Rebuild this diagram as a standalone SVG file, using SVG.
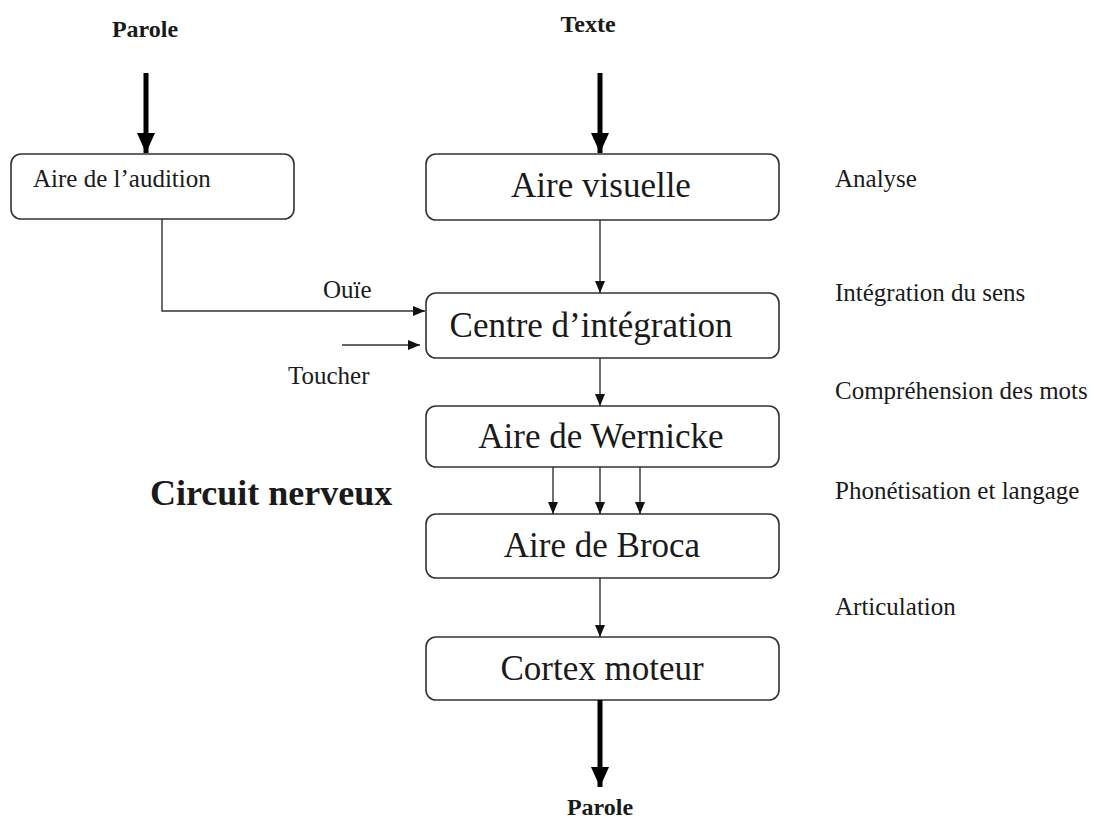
<svg xmlns="http://www.w3.org/2000/svg" width="1095" height="823" viewBox="0 0 1095 823">
  <style>
    .box { fill: #ffffff; stroke: #333333; stroke-width: 1.6; }
    .box-text { font-family: "Liberation Serif", "Times New Roman", serif; font-size: 35px; fill: #1a1a1a; text-anchor: middle; }
    .small { font-family: "Liberation Serif", "Times New Roman", serif; font-size: 25px; fill: #1a1a1a; }
    .head { font-family: "Liberation Serif", "Times New Roman", serif; font-size: 24px; font-weight: bold; fill: #1a1a1a; text-anchor: middle; }
    .thin { fill: none; stroke: #333333; stroke-width: 1.4; }
    .thick { fill: none; stroke: #000000; stroke-width: 5; }
  </style>
  <defs>
    <marker id="arrow" markerUnits="userSpaceOnUse" markerWidth="12" markerHeight="12" viewBox="0 0 12 12" refX="12" refY="6" orient="auto">
      <path d="M0,1 L12,6 L0,11 Z" fill="#111111"/>
    </marker>
    <marker id="arrow-big" markerUnits="userSpaceOnUse" markerWidth="20" markerHeight="20" viewBox="0 0 20 20" refX="20" refY="10" orient="auto">
      <path d="M0,1 L20,10 L0,19 Z" fill="#000000"/>
    </marker>
  </defs>

  <rect width="1095" height="823" fill="#ffffff"/>

  <!-- inputs and output labels -->
  <text class="head" x="145" y="37">Parole</text>
  <text class="head" x="588" y="32">Texte</text>
  <text class="head" x="600" y="815">Parole</text>

  <text x="150" y="505" font-family="'Liberation Serif', 'Times New Roman', serif" font-size="36" font-weight="bold" fill="#1a1a1a">Circuit nerveux</text>

  <!-- stage descriptions -->
  <g id="stages">
    <text class="small" x="835" y="187">Analyse</text>
    <text class="small" x="835" y="301">Intégration du sens</text>
    <text class="small" x="835" y="399">Compréhension des mots</text>
    <text class="small" x="835" y="499">Phonétisation et langage</text>
    <text class="small" x="835" y="615">Articulation</text>
  </g>

  <!-- nodes -->
  <g id="aire-audition">
    <rect class="box" x="11" y="154" width="283" height="65" rx="10"/>
    <text class="small" x="33" y="187">Aire de l’audition</text>
  </g>
  <g id="aire-visuelle">
    <rect class="box" x="426" y="154" width="353" height="66" rx="10"/>
    <text class="box-text" x="601" y="197">Aire visuelle</text>
  </g>
  <g id="centre-integration">
    <rect class="box" x="426" y="293" width="353" height="65" rx="10"/>
    <text class="box-text" x="591" y="337">Centre d’intégration</text>
  </g>
  <g id="aire-wernicke">
    <rect class="box" x="426" y="406" width="353" height="61" rx="10"/>
    <text class="box-text" x="601" y="448">Aire de Wernicke</text>
  </g>
  <g id="aire-broca">
    <rect class="box" x="426" y="514" width="353" height="64" rx="10"/>
    <text class="box-text" x="602" y="557">Aire de Broca</text>
  </g>
  <g id="cortex-moteur">
    <rect class="box" x="426" y="637" width="353" height="63" rx="10"/>
    <text class="box-text" x="602" y="680">Cortex moteur</text>
  </g>

  <!-- connectors -->
  <g id="connectors">
    <line class="thick" x1="146" y1="73" x2="146" y2="153" marker-end="url(#arrow-big)"/>
    <line class="thick" x1="600" y1="73" x2="600" y2="153" marker-end="url(#arrow-big)"/>
    <line class="thick" x1="600" y1="700" x2="600" y2="787" marker-end="url(#arrow-big)"/>

    <path class="thin" d="M162,219 V311 H425" marker-end="url(#arrow)"/>
    <line class="thin" x1="342" y1="345" x2="420" y2="345" marker-end="url(#arrow)"/>

    <line class="thin" x1="600" y1="220" x2="600" y2="293" marker-end="url(#arrow)"/>
    <line class="thin" x1="600" y1="358" x2="600" y2="406" marker-end="url(#arrow)"/>
    <line class="thin" x1="553" y1="467" x2="553" y2="514" marker-end="url(#arrow)"/>
    <line class="thin" x1="600" y1="467" x2="600" y2="514" marker-end="url(#arrow)"/>
    <line class="thin" x1="640" y1="467" x2="640" y2="514" marker-end="url(#arrow)"/>
    <line class="thin" x1="600" y1="578" x2="600" y2="637" marker-end="url(#arrow)"/>
  </g>

  <!-- connector labels -->
  <text class="small" x="323" y="298">Ouïe</text>
  <text class="small" x="288" y="384">Toucher</text>
</svg>
